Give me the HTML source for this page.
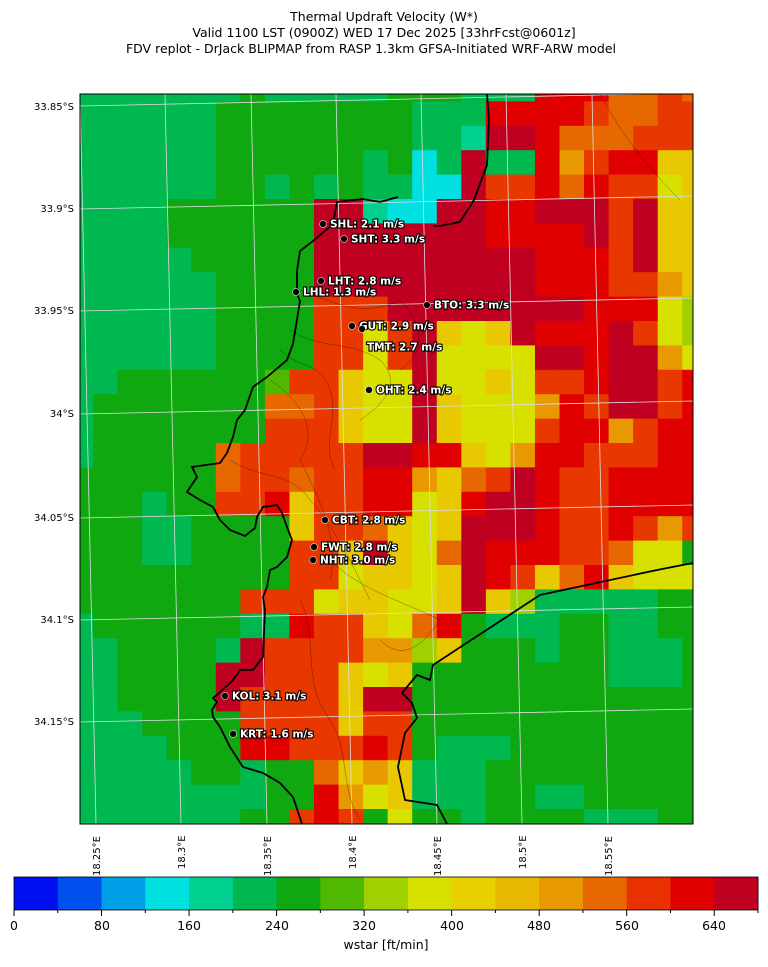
<!DOCTYPE html>
<html><head><meta charset="utf-8"><style>
body{margin:0;background:#fff;width:768px;height:962px;overflow:hidden;font-family:"Liberation Sans","DejaVu Sans",sans-serif}
</style></head><body>
<svg id="s" width="768" height="962" xmlns="http://www.w3.org/2000/svg" font-family="DejaVu Sans, Liberation Sans, sans-serif">
<defs><clipPath id="mc"><rect x="80" y="94" width="613" height="730"/></clipPath></defs>
<text x="384" y="21" font-size="12.5" text-anchor="middle">Thermal Updraft Velocity (W*)</text>
<text x="384" y="37" font-size="12.5" text-anchor="middle">Valid 1100 LST (0900Z) WED 17 Dec 2025 [33hrFcst@0601z]</text>
<text x="371" y="53" font-size="12.5" text-anchor="middle">FDV replot - DrJack BLIPMAP from RASP 1.3km GFSA-Initiated WRF-ARW model</text>
<g id="grid" clip-path="url(#mc)"></g>
<g stroke="#ddd" stroke-width="0.8" fill="none" clip-path="url(#mc)">
<line x1="80" y1="106" x2="693" y2="93"/><line x1="80" y1="209" x2="693" y2="196"/><line x1="80" y1="311" x2="693" y2="298"/><line x1="80" y1="414" x2="693" y2="401"/><line x1="80" y1="518" x2="693" y2="505"/><line x1="80" y1="620" x2="693" y2="607"/><line x1="80" y1="722" x2="693" y2="709"/>
<line x1="96" y1="824" x2="80" y2="94"/><line x1="181" y1="824" x2="165" y2="94"/><line x1="267" y1="824" x2="251" y2="94"/><line x1="352" y1="824" x2="336" y2="94"/><line x1="437" y1="824" x2="421" y2="94"/><line x1="522" y1="824" x2="506" y2="94"/><line x1="608" y1="824" x2="592" y2="94"/>
</g>
<g fill="none" stroke="#000" stroke-width="0.5" opacity="0.5" clip-path="url(#mc)">
<path d="M300,290 C330,300 360,320 400,300 C420,320 430,350 400,370"/>
<path d="M290,330 C320,350 350,340 380,360 C400,380 390,400 360,420"/>
<path d="M270,380 C300,400 320,430 300,460 C320,500 340,540 330,580"/>
<path d="M230,460 C260,480 290,470 310,500 C330,520 350,560 370,600"/>
<path d="M330,560 C360,590 400,600 440,620 C420,650 400,660 380,640"/>
<path d="M280,350 C300,370 320,360 330,390 C340,420 320,440 335,470"/>
<path d="M300,600 C320,640 300,680 330,720 C350,750 340,790 360,820"/>
<path d="M600,94 C620,130 640,160 680,200"/>
</g>
<g fill="none" stroke="#000" stroke-width="1.8" clip-path="url(#mc)">
<path d="M487,94 L489,120 L487,165 L474,200 L460,222 L440,226 L433,226"/>
<path d="M398,197 L380,202 L363,199 L337,202 L333,224 L313,241 L300,251 L297,271 L297,294 L300,301 L293,344 L287,360 L267,377 L253,387 L245,410 L237,420 L233,437 L227,453 L220,463 L192,467 L197,477 L187,492 L200,500 L213,507 L220,520 L230,530 L245,536 L255,528 L257,517 L263,507 L277,505 L282,513 L287,527 L292,540 L287,557 L277,567 L270,570 L267,587 L263,597 L265,610 L263,657 L253,670 L240,670 L233,680 L217,695 L213,698 L217,702 L212,710 L213,717 L220,727 L230,747 L243,767 L263,773 L280,783 L293,797 L302,824"/>
<path d="M447,824 L437,805 L405,800 L398,767 L405,733 L417,718 L412,703 L402,693 L417,675 L430,680 L433,665 L540,595 L657,570 L693,563"/>
</g>
<rect x="80" y="94" width="613" height="730" fill="none" stroke="#000" stroke-width="1"/>
<g font-size="10" text-anchor="end">
<text x="74" y="110">33.85°S</text><text x="74" y="212">33.9°S</text><text x="74" y="314">33.95°S</text><text x="74" y="417">34°S</text><text x="74" y="521">34.05°S</text><text x="74" y="623">34.1°S</text><text x="74" y="725">34.15°S</text>
</g>
<g font-size="10">
<text transform="translate(100,876) rotate(-90)">18.25°E</text><text transform="translate(185,869) rotate(-90)">18.3°E</text><text transform="translate(271,876) rotate(-90)">18.35°E</text><text transform="translate(356,869) rotate(-90)">18.4°E</text><text transform="translate(441,876) rotate(-90)">18.45°E</text><text transform="translate(526,869) rotate(-90)">18.5°E</text><text transform="translate(612,876) rotate(-90)">18.55°E</text>
</g>
<g id="st" font-size="10.5" font-weight="bold" fill="#fff" stroke="#000" stroke-width="2.2" paint-order="stroke"></g>
<g id="cb"></g>
<rect x="14" y="877" width="744" height="33" fill="none" stroke="#000" stroke-width="0.8"/>
<g font-size="12.5" text-anchor="middle">
<text x="14" y="930">0</text><text x="102" y="930">80</text><text x="189" y="930">160</text><text x="277" y="930">240</text><text x="364" y="930">320</text><text x="452" y="930">400</text><text x="539" y="930">480</text><text x="627" y="930">560</text><text x="714" y="930">640</text>
<text x="386" y="949">wstar [ft/min]</text>
</g>
</svg>
<script>
var C={G:"#00b850",D:"#10a810",T:"#00d090",C:"#00e0e0",L:"#50b800",M:"#a0d000",Y:"#d8e000",O:"#e8c800",A:"#e89800",P:"#e86800",E:"#e83800",R:"#e00000",K:"#c00020"};
var rows=[
"GGGGGGGDGGGGGDDDGGGRRRPPEP",
"GGGGGGDDDDDDDDGGGRRRREPPEE",
"GGGGGGDDDDDDDDGGTKKRPPPEEE",
"GGGGGGDDDDDDGDCGKGGRAERROO",
"GGGGGGDDGDGDGGCCKEERPREEYO",
"GGGGDDDDDDKKTCCKKRRKKKEKOO",
"GGGGDDDDDDKKKKKKKRRRRKEKOO",
"GGGGGDDDDDKKKKKKKKKRRREKOO",
"GGGGGGDDDDKKKKKKKKKRRREEAO",
"GGGGGGDDDDEEEKKKKKKKKRRRYM",
"GGGGGGDDDDEEYEKOYOKRRRKEYM",
"GGGGGGDDDDEEYEKYYYYKKRKKAY",
"GGDDDDDDLEEOYYKYYOYEERKKER",
"GDDDDDDDPPEOYYKOYYYAREKKER",
"GDDDDDDDEEEOYYKOYYYERRAERR",
"GDDDDDPEEEEEKKRROYARREEERR",
"DDDDDDPEEPEERRAOPEKREERRRR",
"DDDGDDEEROEERRYORKKREERRRR",
"DDDGGDDDDOEEPOYOKKKREEREAE",
"DDDGGDDDDEEOKOYPKRRREEPYYD",
"DDDDDDDDDEEYOOYOKREOPROYYY",
"DDDDDDDEEEYOOYYOKOMGGGGGDD",
"GDDDDDDGGREEOYPRDGGGDDGGDD",
"GGDDDDGKEEEEAAMODDDGDDGGGD",
"GGDDDDKKEEEOYODDDDDDDDGGGD",
"GGDDDDKEEEEOKKDDDDDDDDDDDD",
"GGGDDDDEEEEOEEDDDDDDDDDDDD",
"GGGGDDDRREEEREDGGGDDDDDDDD",
"GGGGGDDGDDPOAOGGGDDDDDDDDD",
"GGGGGGGGDDRAYOGGGDDGGDDDDD",
"GGGGGGGDDEREDYDDGDDDDGGGDD"];
var ns="http://www.w3.org/2000/svg",g=document.getElementById("grid");
var cw=24.55,ch=24.4,x0=68.5,y0=77;
for(var j=0;j<rows.length;j++)for(var i=0;i<26;i++){var k=rows[j][i]||"D";var r=document.createElementNS(ns,"rect");
r.setAttribute("x",x0+i*cw);r.setAttribute("y",y0+j*ch);r.setAttribute("width",cw+0.6);r.setAttribute("height",ch+0.6);r.setAttribute("fill",C[k]);g.appendChild(r);}
var cb=["#0010f0","#0050f0","#00a0e8","#00e0e0","#00d090","#00b850","#10a810","#50b800","#a0d000","#d8e000","#e8d000","#e8b800","#e89800","#e86800","#e83000","#e00000","#c00020"];
var cg=document.getElementById("cb");
for(var i=0;i<17;i++){var r=document.createElementNS(ns,"rect");r.setAttribute("x",14+i*744/17);r.setAttribute("y",877);r.setAttribute("width",744/17+0.5);r.setAttribute("height",33);r.setAttribute("fill",cb[i]);cg.appendChild(r);}
for(var i=0;i<=17;i++){var l=document.createElementNS(ns,"line");var x=14+i*744/17;l.setAttribute("x1",x);l.setAttribute("x2",x);l.setAttribute("y1",910);l.setAttribute("y2",i%2?913:916);l.setAttribute("stroke","#000");cg.appendChild(l);}
var st=[[323,224,"SHL: 2.1 m/s"],[344,239,"SHT: 3.3 m/s"],[321,281,"LHT: 2.8 m/s"],[296,292,"LHL: 1.3 m/s"],[427,305,"BTO: 3.3 m/s"],[352,326,"GUT: 2.9 m/s"],[362,329,""],[361,347,"TMT: 2.7 m/s",1],[369,390,"OHT: 2.4 m/s"],[325,520,"CBT: 2.8 m/s"],[314,547,"FWT: 2.8 m/s"],[313,560,"NHT: 3.0 m/s"],[225,696,"KOL: 3.1 m/s"],[233,734,"KRT: 1.6 m/s"]];
var sg=document.getElementById("st");
st.forEach(function(s){if(!s[3]){var c=document.createElementNS(ns,"circle");c.setAttribute("cx",s[0]);c.setAttribute("cy",s[1]);c.setAttribute("r",3.2);c.setAttribute("fill","#000");c.setAttribute("stroke","#fff");c.setAttribute("stroke-width","1");sg.appendChild(c);}
if(s[2]){var t=document.createElementNS(ns,"text");t.setAttribute("x",s[0]+(s[3]?6:7));t.setAttribute("y",s[1]+3.5);t.textContent=s[2];sg.appendChild(t);}});
</script>
</body></html>
